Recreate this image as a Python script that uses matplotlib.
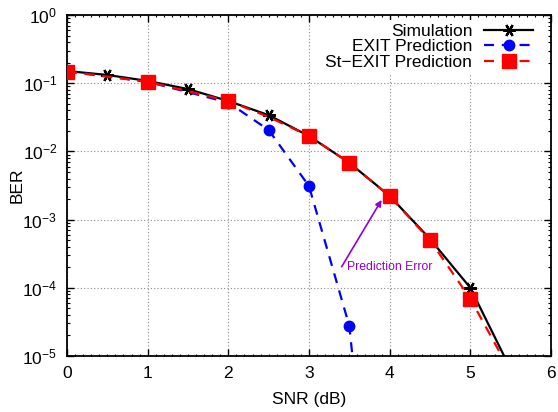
import matplotlib
matplotlib.use("Agg")
import matplotlib.pyplot as plt
from matplotlib.ticker import LogLocator, MultipleLocator, NullFormatter

plt.rcParams['font.family'] = ['Liberation Sans', 'DejaVu Sans']
plt.rcParams['mathtext.fontset'] = 'custom'
plt.rcParams['mathtext.rm'] = 'Liberation Sans'

# BER curves versus SNR
snr_sim = [0, 0.5, 1, 1.5, 2, 2.5, 3, 3.5, 4, 4.5, 5, 5.5]
ber_sim = [0.151, 0.132, 0.108, 0.082, 0.0548, 0.034, 0.0168, 0.0068,
           0.00222, 5.2e-4, 1.0e-4, 6.4e-6]

snr_exit = [0, 1, 2, 2.5, 3, 3.5, 4]
ber_exit = [0.15, 0.105, 0.052, 0.0206, 0.0031, 2.75e-5, 5e-11]

snr_st = [0, 1, 2, 2.5, 3, 3.5, 4, 4.5, 5, 5.5]
ber_st = [0.148, 0.105, 0.055, 0.032, 0.0168, 0.0068, 0.0022, 5.0e-4,
          6.9e-5, 5.8e-6]
st_marked = [0, 1, 2, 4, 5, 6, 7, 8]

labels = ["Simulation", "EXIT Prediction", "St\u2212EXIT Prediction"]
x_ticks = [0, 1, 2, 3, 4, 5, 6]

# annotation: arrow from the label toward the St-EXIT curve
note_text = "Prediction Error"
note_tail = (3.405, 2.04e-4)
note_head = (3.90, 1.94e-3)

fig = plt.figure(figsize=(5.58, 4.12), dpi=100)
ax = fig.add_axes([67/558, 1-356/412, (551-67)/558, (356-15)/412])

ax.plot(snr_sim, ber_sim, color='black', lw=1.6, marker=(6, 2, 90),
        markersize=9, markeredgewidth=1.6, label=labels[0], zorder=3)
ax.plot(snr_exit, ber_exit, color='#0000ff', lw=1.6, ls=(0, (4.5, 3.5)),
        marker='o', markersize=7.5, label=labels[1], zorder=4)
ax.plot(snr_st, ber_st, color='#ff0000', lw=1.6, ls=(0, (4.5, 3.5)),
        marker='s', markersize=9.5, markevery=st_marked, label=labels[2], zorder=5)

ax.set_yscale('log')
ax.set_xlim(0, 6)
ax.set_ylim(1e-5, 1)
ax.set_xticks(x_ticks)
ax.xaxis.set_minor_locator(MultipleLocator(0.1))
ax.yaxis.set_major_locator(LogLocator(base=10, numticks=10))
ax.yaxis.set_minor_locator(LogLocator(base=10, subs=range(2, 10), numticks=20))
ax.yaxis.set_minor_formatter(NullFormatter())

ax.grid(True, which='major', ls=(0, (1, 2)), color='#888888', lw=0.8)
ax.tick_params(which='both', direction='in', top=True, right=True,
               labelsize=12.5, colors='black')
ax.tick_params(which='major', length=5, width=1.0, pad=7)
ax.tick_params(which='minor', length=2.5, width=0.8)
ax.tick_params(axis='x', which='minor', length=1.5)
for s in ax.spines.values():
    s.set_linewidth(1.3)

ax.set_xlabel("SNR (dB)", fontsize=12.5, labelpad=8)
ax.set_ylabel("BER", fontsize=12.5, labelpad=-2)

ax.annotate('', xy=note_head, xytext=note_tail,
            arrowprops=dict(arrowstyle='-|>', color='#9400d3', lw=1.2,
                            mutation_scale=9, shrinkA=0, shrinkB=0))
ax.text(note_tail[0] + 0.07, note_tail[1], note_text, color='#9400d3',
        fontsize=8.8, ha='left', va='center')

leg = ax.legend(loc='upper right', frameon=True, fancybox=False,
                facecolor='white', edgecolor='none', framealpha=1.0,
                markerfirst=False, alignment='right',
                fontsize=12.5, handlelength=2.8, handletextpad=0.7,
                labelspacing=0.03, borderpad=0.2, borderaxespad=0.0,
                bbox_to_anchor=(0.970, 0.985))

fig.savefig("out.png", dpi=100)
